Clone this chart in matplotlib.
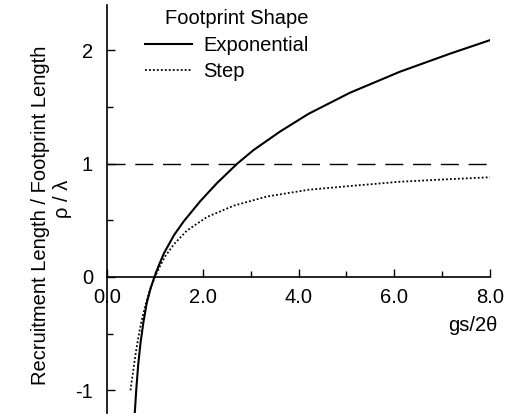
import matplotlib
matplotlib.use("Agg")
import matplotlib.pyplot as plt
from matplotlib.ticker import MultipleLocator

plt.rcParams["font.family"] = ["Liberation Sans", "DejaVu Sans"]

# values
exp_x = [0.58, 0.61, 0.65, 0.70, 0.76, 0.83, 0.91, 0.99, 1.08, 1.19, 1.40, 1.60,
         1.95, 2.30, 2.72, 3.06, 3.62, 4.21, 5.07, 6.11, 7.16, 8.00]
exp_y = [-1.20, -1.00, -0.78, -0.58, -0.40, -0.23, -0.10, 0.00, 0.10, 0.21, 0.37, 0.49,
         0.67, 0.83, 1.00, 1.12, 1.285, 1.44, 1.625, 1.81, 1.97, 2.09]
step_x = [0.49, 0.54, 0.60, 0.66, 0.72, 0.82, 0.90, 1.00, 1.10, 1.21, 1.40, 1.67,
          2.09, 2.65, 3.34, 4.21, 5.00, 6.10, 7.00, 8.00]
step_y = [-1.00, -0.85, -0.67, -0.52, -0.39, -0.22, -0.11, 0.00, 0.09, 0.18, 0.29, 0.41,
          0.53, 0.63, 0.71, 0.77, 0.80, 0.84, 0.86, 0.88]
ref_level = 1.0
x_ticks = [0, 2, 4, 6, 8]
x_tick_labels = ["0.0", "2.0", "4.0", "6.0", "8.0"]
y_ticks = [-1, 0, 1, 2]
y_tick_labels = ["-1", "0", "1", "2"]

fig = plt.figure(figsize=(5.13, 4.18), dpi=100)
ax = fig.add_axes([0.2086, 0.012, 0.7466, 0.976])

ax.plot(exp_x, exp_y, color="black", lw=1.5, label="Exponential")
ax.plot(step_x, step_y, color="black", lw=1.3, ls=(0, (1, 1.2)), label="Step")
ax.axhline(ref_level, color="black", lw=1.0, ls=(0, (13, 7)))

ax.set_xlim(0, 8)
ax.set_ylim(-1.2, 2.4)

ax.spines["top"].set_visible(False)
ax.spines["right"].set_visible(False)
ax.spines["bottom"].set_position(("data", 0))
for s in ax.spines.values():
    s.set_linewidth(1.2)

ax.set_xticks(x_ticks)
ax.set_xticklabels(x_tick_labels)
ax.set_yticks(y_ticks)
ax.set_yticklabels(y_tick_labels)
ax.xaxis.set_minor_locator(MultipleLocator(1))
ax.yaxis.set_minor_locator(MultipleLocator(0.5))
ax.tick_params(which="both", direction="in", width=1.0, labelsize=14.5)
ax.tick_params(which="major", length=6)
ax.tick_params(which="minor", length=4)
ax.tick_params(axis="y", pad=10)
ax.tick_params(axis="x", pad=8)

ax.text(0.955, 0.215, "gs/2\u03b8", transform=ax.transAxes, fontsize=14.5,
        ha="center", va="center")

fig.text(0.078, 0.485, "Recruitment Length / Footprint Length", rotation=90,
         fontsize=14.5, ha="center", va="center")
fig.text(0.121, 0.524, "\u03c1 / \u03bb", rotation=90, fontsize=14.5,
         ha="center", va="center")

leg = ax.legend(title="Footprint Shape", loc="upper left", bbox_to_anchor=(0.099, 0.99),
                frameon=False, fontsize=14.5, title_fontsize=14.5, handlelength=2.35,
                handletextpad=0.55, labelspacing=0.38, borderpad=0.0,
                borderaxespad=0.0)
leg.set_alignment("right")

fig.savefig("out.png", dpi=100)
